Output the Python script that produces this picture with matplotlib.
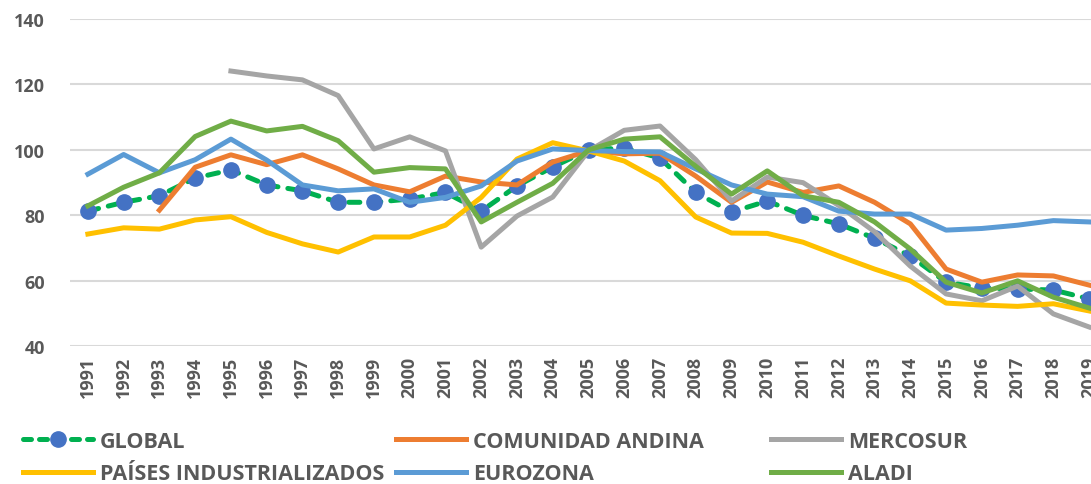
import numpy as np
import matplotlib
matplotlib.use("Agg")
import matplotlib.pyplot as plt
from matplotlib.lines import Line2D

plt.rcParams['font.family'] = ['Open Sans', 'DejaVu Sans']

years = [str(y) for y in range(1991, 2020)]

global_idx = [81.3, 84.0, 86.0, 91.4, 93.9, 89.3, 87.5, 84.0, 84.0, 85.0,
              87.0, 81.3, 89.0, 94.8, 100.0, 100.6, 97.5, 87.0, 81.0, 84.4,
              80.0, 77.4, 73.0, 67.6, 59.6, 57.8, 57.5, 57.2, 54.5]
comunidad = [np.nan, np.nan, 81.6, 94.7, 98.5, 95.5, 98.5, 94.2, 89.3, 87.2,
             92.0, 90.2, 89.3, 96.3, 99.7, 98.8, 99.0, 92.0, 84.0, 90.2,
             87.0, 89.0, 84.0, 77.4, 63.6, 59.6, 61.8, 61.5, 58.7]
mercosur = [np.nan, np.nan, np.nan, np.nan, 124.1, 122.6, 121.4, 116.6, 100.3, 104.0,
            99.7, 70.3, 79.8, 85.6, 99.7, 106.0, 107.3, 97.0, 84.4, 91.7,
            90.0, 83.0, 75.0, 64.5, 56.0, 53.9, 58.4, 49.9, 45.9]
paises = [74.3, 76.2, 75.8, 78.6, 79.6, 74.8, 71.3, 68.8, 73.4, 73.4,
          77.0, 85.5, 97.2, 102.2, 99.7, 96.6, 90.6, 79.5, 74.6, 74.5,
          71.8, 67.6, 63.6, 60.0, 53.2, 52.6, 52.2, 53.0, 50.8]
eurozona = [92.6, 98.6, 93.0, 97.0, 103.3, 96.9, 89.3, 87.5, 88.1, 84.0,
            85.5, 89.0, 96.6, 100.3, 99.8, 99.5, 99.4, 94.2, 89.3, 86.5,
            85.7, 81.3, 80.4, 80.4, 75.5, 76.0, 77.0, 78.4, 78.0]
aladi = [82.9, 88.6, 93.0, 104.1, 108.8, 105.8, 107.2, 102.8, 93.2, 94.6,
         94.2, 78.0, 84.0, 89.8, 100.0, 103.3, 104.0, 95.0, 86.5, 93.6,
         86.0, 84.0, 78.0, 69.7, 59.6, 56.3, 60.0, 55.0, 51.7]

yticks = [40, 60, 80, 100, 120, 140]

fig = plt.figure(figsize=(10.91, 4.85), dpi=100)
ax = fig.add_axes([70 / 1091, 1 - 347.3 / 485, 1037 / 1091, 327.3 / 485])

x = np.arange(len(years))
lw = 3.6
ax.plot(x, global_idx, color="#00B050", lw=lw, dashes=(2.2, 2.0),
        dash_capstyle="round", marker="o", markersize=11,
        markerfacecolor="#4472C4", markeredgecolor="#4472C4", zorder=3)
ax.plot(x, comunidad, color="#ED7D31", lw=lw, zorder=4)
ax.plot(x, mercosur, color="#A5A5A5", lw=lw, zorder=5)
ax.plot(x, paises, color="#FFC000", lw=lw, zorder=6)
ax.plot(x, eurozona, color="#5B9BD5", lw=lw, zorder=7)
ax.plot(x, aladi, color="#70AD47", lw=lw, zorder=8)

ax.set_xlim(-0.5, len(years) - 0.5)
ax.set_ylim(40, 140)
ax.set_yticks(yticks)
ax.set_xticks(x)
ax.set_xticklabels(years, rotation=90)
ax.grid(axis="y", color="#D9D9D9", lw=1.5)
ax.set_axisbelow(True)
for s in ax.spines.values():
    s.set_visible(False)
ax.tick_params(axis="y", length=0, pad=18, labelsize=13, labelcolor="#595959")
ax.tick_params(axis="x", length=0, pad=7, labelsize=13, labelcolor="#595959")
for t in ax.get_xticklabels() + ax.get_yticklabels():
    t.set_fontweight("bold")

# legend, three columns placed like the original
def h(color, **kw):
    return Line2D([], [], color=color, lw=lw, **kw)

g_handle = Line2D([], [], color="#00B050", lw=lw, dashes=(1.6, 1.6),
                  dash_capstyle="round", marker="o", markersize=11,
                  markerfacecolor="#4472C4", markeredgecolor="#4472C4")
cols = [
    (23, [g_handle, h("#FFC000")], ["GLOBAL", "PAÍSES INDUSTRIALIZADOS"]),
    (396, [h("#ED7D31"), h("#5B9BD5")], ["COMUNIDAD ANDINA", "EUROZONA"]),
    (771, [h("#A5A5A5"), h("#70AD47")], ["MERCOSUR", "ALADI"]),
]
for xpos, hs, labs in cols:
    leg = fig.legend(hs, labs, loc="upper left",
                     bbox_to_anchor=(xpos / 1091, 1 - 432 / 485),
                     frameon=False, handlelength=3.25, handletextpad=0.33,
                     labelspacing=0.52, borderpad=0, borderaxespad=0,
                     prop={"size": 15.5, "weight": "bold"})
    for t in leg.get_texts():
        t.set_color("#595959")

fig.savefig("out.png", dpi=100)
